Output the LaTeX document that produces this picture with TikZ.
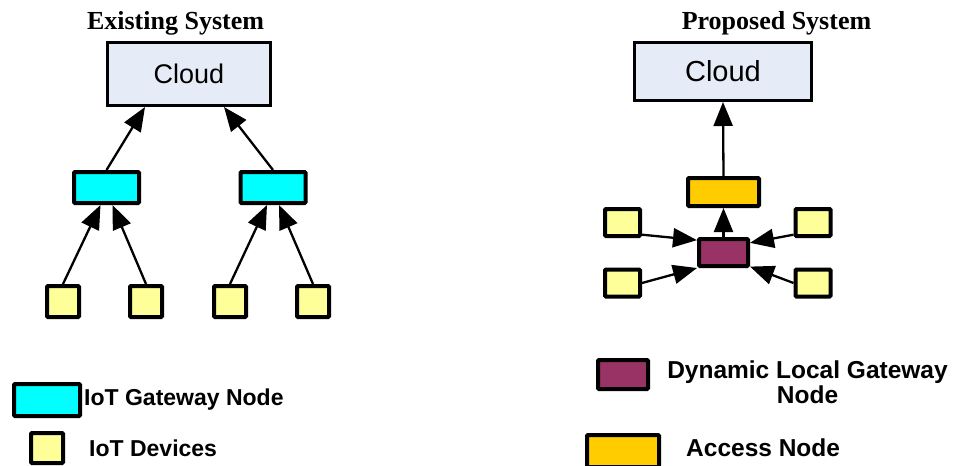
\documentclass[tikz,border=0pt]{standalone}
\usepackage{fontspec}
\setmainfont{Liberation Serif}
\setsansfont{Liberation Sans}
\usetikzlibrary{arrows.meta,positioning}

\definecolor{cloudfill}{HTML}{E6ECF7}
\definecolor{gwfill}{HTML}{00FFFF}
\definecolor{devfill}{HTML}{FFFF99}
\definecolor{dlgfill}{HTML}{993366}
\definecolor{accfill}{HTML}{FFCC00}

\begin{document}
\begin{tikzpicture}
	[
		x = 1pt, y = -1pt,
		box/.style = {shape=rectangle, draw=black, line width=4pt, rounded corners=1pt, inner sep=0pt, anchor=center},
		cloudbox/.style = {box, line width=3pt, fill=cloudfill, rounded corners=0pt, font=\sffamily},
		gwbox/.style = {box, fill=gwfill, minimum width=65pt, minimum height=31pt},
		devbox/.style = {box, fill=devfill, minimum width=32pt, minimum height=31pt},
		dlgbox/.style = {box, fill=dlgfill, minimum width=49pt, minimum height=27pt},
		accbox/.style = {box, fill=accfill, minimum width=71pt, minimum height=28pt},
		link/.style = {-{Triangle[length=24pt,width=19pt]}, line width=2.3pt},
		title/.style = {font=\bfseries\fontsize{26}{30}\selectfont, anchor=base},
		legtext/.style = {font=\sffamily\bfseries\fontsize{23}{26}\selectfont, anchor=west, inner sep=0pt}
	]
	
	\useasboundingbox (0, 0) rectangle (954, 466);
	
	\newcommand{\device}[3]{\node [devbox] (#1) at (#2, #3) {}; }
	
	% existing system: two gateways under one cloud
	\node [title] (tA) at (175.5, 29) {Existing System};
	\node [cloudbox, minimum width=163pt, minimum height=63pt, font=\sffamily\fontsize{27}{30}\selectfont] (cloudA) at (189, 74) {Cloud};
	
	\node [gwbox] (gw1) at (106.5, 187.5) {};
	\node [gwbox] (gw2) at (273, 187.5) {};
	
	\device{d1}{63}{301.5}
	\device{d2}{146}{301.5}
	\device{d3}{230}{301.5}
	\device{d4}{313}{301.5}
	
	\draw [link] (gw1.north) -- ([xshift=-44pt]cloudA.south);
	\draw [link] (gw2.north) -- ([xshift=35pt]cloudA.south);
	
	\draw [link] (d1.north) -- ([xshift=-6pt]gw1.south);
	\draw [link] (d2.north) -- ([xshift=6pt]gw1.south);
	\draw [link] (d3.north) -- ([xshift=-6pt]gw2.south);
	\draw [link] (d4.north) -- ([xshift=6pt]gw2.south);
	
	% proposed system: devices -> local gateway -> access node -> cloud
	\node [title] (tB) at (776.5, 29) {Proposed System};
	\node [cloudbox, minimum width=177pt, minimum height=58pt, font=\sffamily\fontsize{29}{32}\selectfont] (cloudB) at (723, 71.5) {Cloud};
	
	\node [accbox] (acc) at (723.5, 192) {};
	\node [dlgbox] (dlg) at (723.5, 252.5) {};
	
	\tikzset{devbox/.append style = {minimum width=35pt, minimum height=27pt}}
	\device{dv1}{622.5}{222.5}
	\device{dv2}{622.5}{283}
	\device{dv3}{813}{222.5}
	\device{dv4}{813}{283}
	
	\draw [link] (acc.north) -- (cloudB.south);
	\draw [link] (dlg.north) -- (acc.south);
	
	\draw [link] (dv1.-32) -- (dlg.155);
	\draw [link] (dv2.east) -- (dlg.south west);
	\draw [link] (dv3.212) -- (dlg.20);
	\draw [link] (dv4.west) -- (dlg.-28);
	
	% legend
	\node [gwbox, minimum width=66pt, minimum height=32pt] (lgw) at (47, 400) {};
	\node [legtext] (lgwt) at (84, 400) {IoT Gateway Node};
	
	\node [devbox, minimum width=32pt, minimum height=30pt] (ldev) at (47, 448) {};
	\node [legtext] (ldevt) at (89, 448) {IoT Devices};
	
	\node [dlgbox, minimum width=50pt, minimum height=29pt] (ldlg) at (623, 374.5) {};
	\node [legtext, anchor=center, align=center, font=\sffamily\bfseries\fontsize{24.5}{25}\selectfont] (ldlgt) at (807.5, 382.5) {Dynamic Local Gateway\\Node};
	
	\node [accbox, minimum width=72pt, minimum height=32pt] (lacc) at (623, 451) {};
	\node [legtext, font=\sffamily\bfseries\fontsize{24.5}{26}\selectfont] (lacct) at (686, 448) {Access Node};
\end{tikzpicture}
\end{document}
